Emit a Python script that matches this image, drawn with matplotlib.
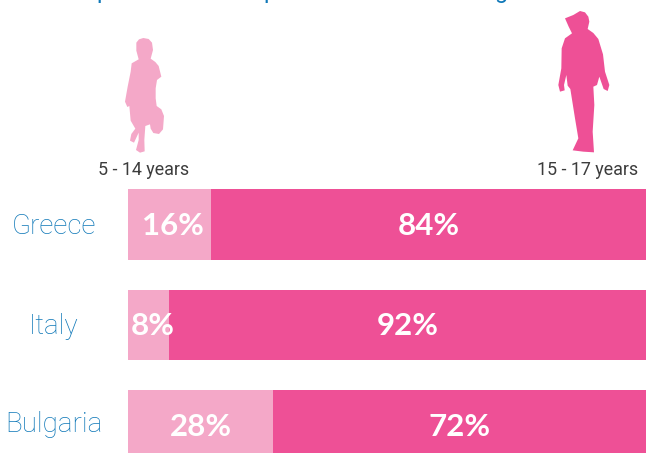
import matplotlib
matplotlib.use("Agg")
import matplotlib.pyplot as plt
from matplotlib.patches import Polygon

countries = ["Greece", "Italy", "Bulgaria"]
young = [16, 8, 28]
old = [84, 92, 72]
age_labels = ["5 - 14 years", "15 - 17 years"]

LIGHT = "#F4A8C8"
DARK = "#EE5096"
BLUE = "#0F78B8"
W, H = 646, 453

# outlines, in zoomed crop pixels (3x)
girl = [(160,24),(176,27),(186,38),(189,60),(182,86),(196,96),(206,108),(214,140),(201,150),(197,175),
        (197,205),(200,228),(214,238),(222,258),(219,298),(207,312),(190,309),(182,296),(180,283),(166,288),
        (163,330),(164,364),(150,368),(138,360),(146,330),(146,308),(132,338),(120,332),(124,312),(136,296),
        (122,272),(118,228),(112,231),(105,215),(113,170),(122,125),(125,100),(146,88),(139,62),(139,38),(147,28)]
boy = [(150,18),(165,22),(175,35),(178,50),(173,72),(190,84),(205,102),(219,148),(225,200),(238,240),
       (233,258),(221,252),(208,215),(201,240),(190,245),(193,300),(188,380),(192,442),(160,440),
       (128,436),(145,400),(135,340),(121,252),(113,242),(109,210),(102,240),(104,256),(90,260),
       (85,240),(94,190),(95,130),(105,100),(126,85),(116,65),(105,40),(130,30)]

fig = plt.figure(figsize=(W / 100, H / 100), dpi=100)

# page layer in pixel coordinates
page = fig.add_axes([0, 0, 1, 1])
page.set_xlim(0, W)
page.set_ylim(H, 0)
page.axis("off")

page.add_patch(Polygon([(90 + x / 3, 30 + y / 3) for x, y in girl], color=LIGHT, lw=0))
page.add_patch(Polygon([(530 + x / 3, 5 + y / 3) for x, y in boy], color=DARK, lw=0))

page.text(144, 170, age_labels[0], family="Roboto", fontsize=12.9,
          color="#3C3C3C", ha="center", va="center")
page.text(588, 170, age_labels[1], family="Roboto", fontsize=12.9,
          color="#3C3C3C", ha="center", va="center")

# stacked bars run past the bottom edge like in the picture
ax = fig.add_axes([128 / W, (H - 461) / H, 518 / W, 272 / H])
y = range(len(countries))
ax.barh(y, young, height=0.7, color=LIGHT)
ax.barh(y, old, left=young, height=0.7, color=DARK)
ax.set_xlim(0, 100)
ax.set_ylim(2.3532, -0.3532)
ax.axis("off")

# small labels sit a little right of the centre of their segment
nudge = [0.7, 0.8, 0]
for i, name in enumerate(countries):
    ax.text(young[i] / 2 + nudge[i], i + 0.01, f"{young[i]}%", family="Lato",
            weight="bold", fontsize=22.5, color="white", ha="center", va="center")
    ax.text(young[i] + old[i] / 2, i + 0.01, f"{old[i]}%", family="Lato",
            weight="bold", fontsize=22.5, color="white", ha="center", va="center")

label_y = [226, 326, 425]
for name, ly in zip(countries, label_y):
    page.text(54, ly, name, family="Roboto", weight="light", fontsize=20,
              color=BLUE, ha="center", va="center")

# bottoms of the cut-off heading at the top edge
for ch, cx in zip("ppg", [103, 270, 501]):
    page.text(cx, -2, ch, family="Roboto", fontsize=17, color=BLUE, ha="center", va="baseline")

fig.savefig("out.png", dpi=100)
